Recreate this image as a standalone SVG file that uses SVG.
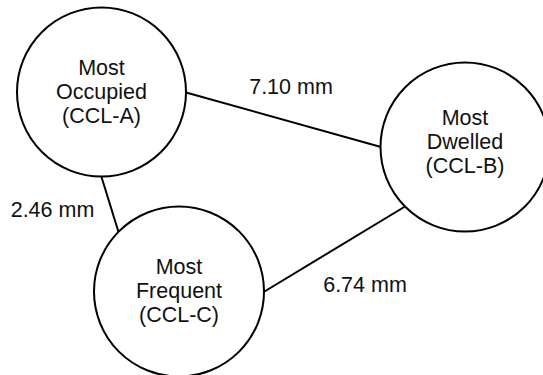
<svg xmlns="http://www.w3.org/2000/svg" width="543" height="375" viewBox="0 0 543 375">
<style>
.node{fill:#fff;stroke:#000;stroke-width:2}
.conn{stroke:#000;stroke-width:2;fill:none}
text{font-family:"Liberation Sans",Arial,sans-serif;font-size:21.5px;fill:#111;text-anchor:middle}
</style>
<rect width="543" height="375" fill="#fff"/>
<g id="connectors">
<line class="conn" x1="186" y1="92.5" x2="381" y2="147"/>
<line class="conn" x1="101.5" y1="177" x2="118.5" y2="232"/>
<line class="conn" x1="264.5" y1="291.5" x2="405" y2="206.5"/>
<text x="291" y="94">7.10 mm</text>
<text x="52.5" y="217">2.46 mm</text>
<text x="365" y="292">6.74 mm</text>
</g>
<g id="ccl-a">
<circle class="node" cx="101.5" cy="92" r="84.5"/>
<text x="101.5" y="75">Most</text>
<text x="101.5" y="99">Occupied</text>
<text x="101.5" y="123">(CCL-A)</text>
</g>
<g id="ccl-b">
<circle class="node" cx="465" cy="147" r="84.5"/>
<text x="465" y="125">Most</text>
<text x="465" y="149">Dwelled</text>
<text x="465" y="173">(CCL-B)</text>
</g>
<g id="ccl-c">
<circle class="node" cx="179" cy="291.5" r="85"/>
<text x="179" y="274">Most</text>
<text x="179" y="298">Frequent</text>
<text x="179" y="322">(CCL-C)</text>
</g>
</svg>
